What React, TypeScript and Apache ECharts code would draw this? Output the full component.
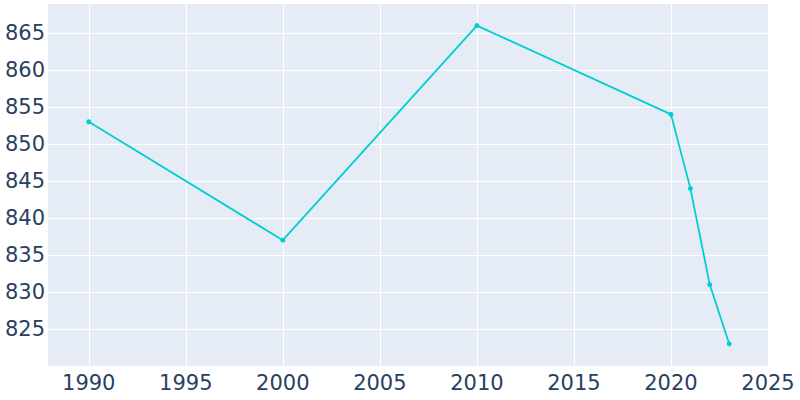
import React, { useEffect, useRef } from "react";
import * as echarts from "echarts";

const years = [1990, 2000, 2010, 2020, 2021, 2022, 2023];
const population = [853, 837, 866, 854, 844, 831, 823];
const xTicks = [1990, 1995, 2000, 2005, 2010, 2015, 2020, 2025];

export default function App() {
  const ref = useRef<HTMLDivElement>(null);
  useEffect(() => {
    if (!ref.current) return;
    const chart = echarts.init(ref.current, null, { renderer: "svg" });
    const font = "DejaVu Sans";
    chart.setOption({
      animation: false,
      backgroundColor: "#ffffff",
      grid: { left: 48, right: 32, top: 3, bottom: 34, containLabel: false, show: true, backgroundColor: "#E5ECF6", borderWidth: 0 },
      xAxis: {
        type: "value",
        min: 1987.9,
        max: 2025,
        axisLine: { show: false },
        axisTick: { show: false, customValues: xTicks },
        axisLabel: { customValues: xTicks, color: "#2a3f5f", fontSize: 21, fontFamily: font, margin: 6, formatter: (v: number) => String(v) },
        splitLine: { show: true, lineStyle: { color: "#ffffff", width: 1 } },
      },
      yAxis: {
        type: "value",
        min: 820,
        max: 869.05,
        interval: 5,
        axisLine: { show: false },
        axisTick: { show: false },
        axisLabel: { color: "#2a3f5f", fontSize: 21, fontFamily: font, margin: 3, showMinLabel: false, showMaxLabel: false, formatter: (v: number) => String(v) },
        splitLine: { show: true, lineStyle: { color: "#ffffff", width: 1 } },
      },
      series: [
        {
          type: "line",
          data: years.map((y, i) => [y, population[i]]),
          symbol: "circle",
          symbolSize: 5,
          showSymbol: true,
          lineStyle: { color: "#00CED1", width: 1.8 },
          itemStyle: { color: "#00CED1" },
        },
      ],
    });
    return () => chart.dispose();
  }, []);
  return <div ref={ref} style={{ position: "fixed", left: 0, top: 0, width: 800, height: 400 }} />;
}
